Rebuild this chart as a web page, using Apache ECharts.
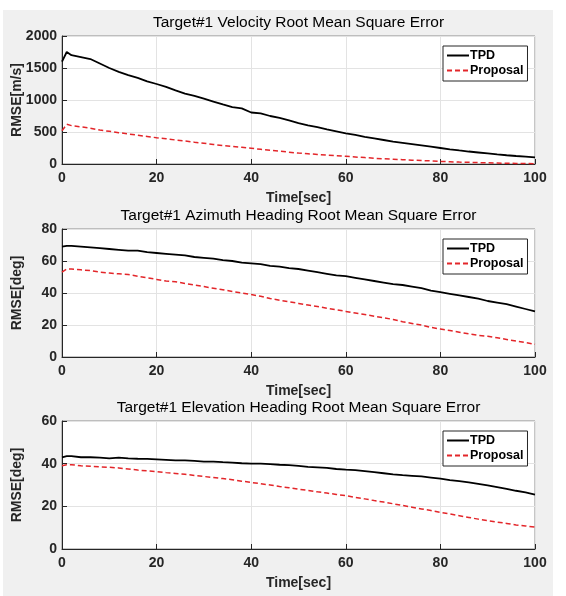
<!DOCTYPE html>
<html>
<head>
<meta charset="utf-8">
<script src="https://cdn.jsdelivr.net/npm/echarts@6/dist/echarts.min.js"></script>
<style>html,body{margin:0;padding:0;background:#fff}#c{width:566px;height:596px}</style>
</head>
<body>
<div id="c"></div>
<script>
// time samples (sec)
const times = [0,1,2,4,6,8,10,12,14,16,18,20,22,24,26,28,30,32,34,36,38,40,42,44,46,48,50,52,54,56,58,60,62,64,66,68,70,72,74,76,78,80,82,84,86,88,90,92,94,96,98,100];

// Velocity RMSE [m/s]
const velTPD = [1600,1750,1700,1670,1640,1570,1500,1440,1390,1345,1290,1250,1205,1150,1100,1065,1020,975,930,890,870,805,790,750,720,680,640,605,575,540,510,480,455,425,400,375,350,330,310,290,270,250,230,212,195,180,165,150,137,125,115,105];
const velProp = [520,620,600,580,560,530,510,490,470,450,430,410,395,375,360,340,325,305,290,275,260,245,230,215,200,185,170,160,150,140,130,120,110,100,90,82,75,68,60,55,48,40,35,30,26,22,18,15,12,9,7,5];

// Azimuth heading RMSE [deg]
const azTPD = [69,69.5,69.5,69,68.5,68,67.5,67,66.5,66.5,65.5,65,64.5,64,63.5,62.5,62,61.5,60.5,60,59,58.5,58,57,56.5,55.5,55,54,53,52,51,50.5,49.5,48.5,47.5,46.5,45.5,45,44,43,41.5,40.5,39.5,38.5,37.5,36.5,35,34,33,31.5,30,28.5];
const azProp = [53,55,55,54.5,54,53,52.5,52,51.5,50.5,49.5,48.5,47.5,47,46,45,44,43,42,41,40,39,38,36.5,35.5,34.5,33.5,32.5,31.5,30.5,29.5,28.5,27.5,26.5,25.5,24.5,23.5,22,21,20,18.5,17.5,16.5,15.5,14.5,13.5,13,12,11,10,9,8];

// Elevation heading RMSE [deg]
const elTPD = [43,43.5,43.5,43,43,42.8,42.5,42.8,42.5,42.3,42.2,42,41.8,41.5,41.5,41.3,41,41,40.7,40.5,40.2,40,40,39.8,39.5,39.3,39,38.5,38.3,38,37.5,37.2,37,36.5,36,35.5,35,34.6,34.3,34,33.5,33,32.3,31.8,31.2,30.5,29.8,29,28.2,27.3,26.5,25.5];
const elProp = [39,39.5,39.5,39,38.8,38.5,38.3,38,37.5,37,36.6,36.3,35.8,35.4,35,34.5,34,33.5,33,32.5,31.8,31.2,30.6,30,29.3,28.7,28,27.5,26.8,26.2,25.6,25,24.2,23.5,22.7,22,21.2,20.4,19.6,18.8,18,17.2,16.4,15.6,14.8,14,13.3,12.6,12,11.3,10.8,10.3];

const titles = ['Target#1 Velocity Root Mean Square Error','Target#1 Azimuth Heading Root Mean Square Error','Target#1 Elevation Heading Root Mean Square Error'];
const yNames = ['RMSE[m/s]','RMSE[deg]','RMSE[deg]'];
const yMax = [2000,80,60];
const yInt = [500,20,20];
const xName = 'Time[sec]';
const seriesNames = ['TPD','Proposal'];

const FONT = '"Liberation Sans", Arial, Helvetica, sans-serif';
const AX = '#262626';
const tops = [36,229,421];
const GL = 62, GW = 473, GH = 128;
const pairs = (vals) => times.map((t,i)=>[t, vals[i]]);
const data = [[velTPD,velProp],[azTPD,azProp],[elTPD,elProp]];

const option = {
  backgroundColor: '#ffffff',
  animation: false,
  graphic: [{type:'rect', shape:{x:3,y:10,width:550,height:586}, style:{fill:'#f0f0f0'}, z:-10, silent:true}],
  title: titles.map((t,i)=>({text:t, left:GL+GW/2, textAlign:'center', top:tops[i]-21, padding:0,
    textStyle:{fontFamily:FONT, fontSize:15.5, fontWeight:'normal', color:'#000'}})),
  grid: tops.map(t=>({left:GL, top:t, width:GW, height:GH, show:true, backgroundColor:'#fff', borderColor:'#8c8c8c', borderWidth:1, containLabel:false, outerBoundsMode:'none'})),
  legend: tops.map(t=>({data:seriesNames, orient:'vertical', left:443, top:t+10, itemWidth:22, itemHeight:10, itemGap:2,
    padding:[3,4,4,3], borderColor:AX, borderWidth:1, backgroundColor:'#fff', selectedMode:false,
    itemStyle:{opacity:0},
    textStyle:{fontFamily:FONT, fontSize:12.5, fontWeight:'bold', color:'#000', padding:[0,0,0,-4]}})),
  xAxis: tops.map((t,i)=>({gridIndex:i, type:'value', min:0, max:100, interval:20,
    name:xName, nameLocation:'middle', nameGap:27, nameMoveOverlap:false,
    nameTextStyle:{fontFamily:FONT, fontSize:14, fontWeight:'bold', color:AX},
    axisLine:{show:true, onZero:false, lineStyle:{color:AX, width:1}},
    axisTick:{show:true, inside:true, length:5, lineStyle:{color:AX}},
    axisLabel:{fontFamily:FONT, fontSize:14, fontWeight:'bold', color:AX, margin:7, formatter:(v)=>String(v)},
    splitLine:{show:true, lineStyle:{color:'#e3e3e3', width:1}}})),
  yAxis: tops.map((t,i)=>({gridIndex:i, type:'value', min:0, max:yMax[i], interval:yInt[i],
    name:yNames[i], nameLocation:'middle', nameGap:38, nameMoveOverlap:false,
    nameTextStyle:{fontFamily:FONT, fontSize:14, fontWeight:'bold', color:AX},
    axisLine:{show:true, lineStyle:{color:AX, width:1}},
    axisTick:{show:true, inside:true, length:5, lineStyle:{color:AX}},
    axisLabel:{fontFamily:FONT, fontSize:14, fontWeight:'bold', color:AX, margin:5, formatter:(v)=>String(v)},
    splitLine:{show:true, lineStyle:{color:'#e3e3e3', width:1}}})),
  series: []
};
data.forEach((d,i)=>{
  option.series.push({name:seriesNames[0], type:'line', xAxisIndex:i, yAxisIndex:i, data:pairs(d[0]),
    symbol:'none', lineStyle:{color:'#000', width:1.8}, itemStyle:{color:'#000'}});
  option.series.push({name:seriesNames[1], type:'line', xAxisIndex:i, yAxisIndex:i, data:pairs(d[1]),
    symbol:'none', lineStyle:{color:'#e3262a', width:1.5, type:[5,3]}, itemStyle:{color:'#e3262a'}});
});
const chart = echarts.init(document.getElementById('c'), null, {renderer:'canvas'});
chart.setOption(option);
</script>
</body>
</html>
